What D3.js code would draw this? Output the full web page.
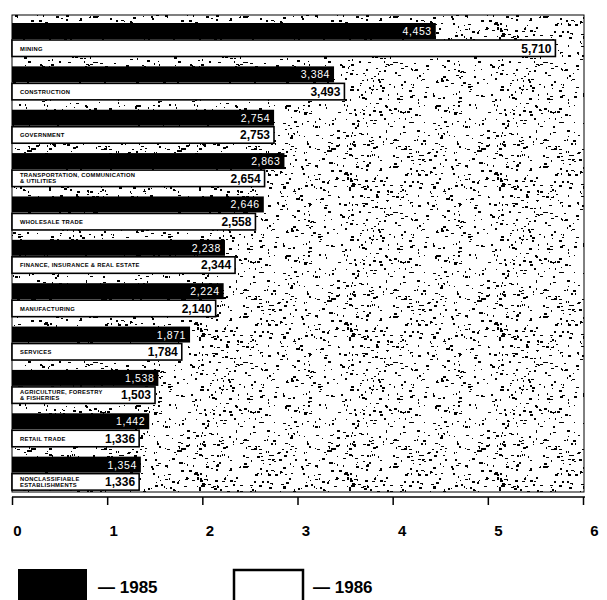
<!DOCTYPE html>
<html>
<head>
<meta charset="utf-8">
<script src="https://cdn.jsdelivr.net/npm/d3@7"></script>
<style>
  body { margin: 0; background: #fff; }
  svg { display: block; font-family: "Liberation Sans", Arial, sans-serif; }
</style>
</head>
<body>
<svg width="607" height="600"></svg>
<script>
const svg = d3.select('svg');

// categories (lines split for the two-line labels)
var categories = ["MINING", "CONSTRUCTION", "GOVERNMENT",
  "TRANSPORTATION, COMMUNICATION|& UTILITIES", "WHOLESALE TRADE",
  "FINANCE, INSURANCE & REAL ESTATE", "MANUFACTURING", "SERVICES",
  "AGRICULTURE, FORESTRY|& FISHERIES", "RETAIL TRADE",
  "NONCLASSIFIABLE|ESTABLISHMENTS"];
// values in thousands
var values1985 = [4.453, 3.384, 2.754, 2.863, 2.646, 2.238, 2.224, 1.871, 1.538, 1.442, 1.354];
var values1986 = [5.710, 3.493, 2.753, 2.654, 2.558, 2.344, 2.140, 1.784, 1.503, 1.336, 1.336];
var ticks = [0, 1, 2, 3, 4, 5, 6];
var legendYears = ["1985", "1986"];

//globals
var plotLeft = 12, plotRight = 584, plotTop = 15, plotBottom = 492;
var axisY = 497;

var x = d3.scaleLinear().domain([0, 6]).range([plotLeft, 583]);
var y = d3.scaleBand().domain(d3.range(categories.length)).range([plotTop, plotBottom]);
var fmt = d3.format(",.0f");

// stipple texture (seeded so it's the same every time)
var rnd = d3.randomLcg(0.42);
var tile = 150;
var pat = svg.append("defs").append("pattern")
    .attr("id", "stipple")
    .attr("patternUnits", "userSpaceOnUse")
    .attr("width", tile).attr("height", tile);
pat.append("rect").attr("width", tile).attr("height", tile).attr("fill", "#fff");
var dots = [];
for (var k = 0; k < 620; k++) {
  dots.push([Math.round(rnd() * tile), Math.round(rnd() * tile), 1 + Math.floor(rnd() * 3), 1 + Math.floor(rnd() * 2)]);
}
pat.selectAll("rect.dot")
    .data(dots)
    .enter()
    .append("rect")
    .attr("class", "dot")
    .attr("x", function(d) { return d[0]; })
    .attr("y", function(d) { return d[1]; })
    .attr("width", function(d) { return d[2]; })
    .attr("height", function(d) { return d[3]; })
    .attr("fill", "#000");

svg.append("rect")
    .attr("x", plotLeft).attr("y", plotTop)
    .attr("width", plotRight - plotLeft).attr("height", plotBottom - plotTop)
    .attr("fill", "url(#stipple)")
    .attr("stroke", "#000").attr("stroke-width", 1);

var rows = svg.append("g").selectAll("g")
    .data(categories)
    .enter()
    .append("g")
    .attr("transform", function(d, i) { return "translate(0," + y(i) + ")"; });

// 1985 black bars
rows.append("rect")
    .attr("x", x(0))
    .attr("y", 8)
    .attr("width", function(d, i) { return x(values1985[i]) - x(0); })
    .attr("height", 16)
    .attr("fill", "#000");

rows.append("text")
    .attr("x", function(d, i) { return x(values1985[i]) - 4; })
    .attr("y", 20)
    .attr("text-anchor", "end")
    .attr("fill", "#fff")
    .attr("font-size", 10.5)
    .attr("letter-spacing", 0.6)
    .text(function(d, i) { return fmt(values1985[i] * 1000); });

// 1986 white bars
rows.append("rect")
    .attr("x", x(0))
    .attr("y", 25)
    .attr("width", function(d, i) { return x(values1986[i]) - x(0); })
    .attr("height", 16.5)
    .attr("fill", "#fff")
    .attr("stroke", "#000")
    .attr("stroke-width", 1.6);

rows.append("text")
    .attr("x", function(d, i) { return x(values1986[i]) - 4; })
    .attr("y", 37.5)
    .attr("text-anchor", "end")
    .attr("font-weight", "bold")
    .attr("font-size", 12)
    .text(function(d, i) { return fmt(values1986[i] * 1000); });

// category labels
rows.each(function(d) {
  var lines = d.split("|");
  var t = d3.select(this).append("text")
      .attr("x", 20)
      .attr("font-size", 5.8)
      .attr("font-weight", "bold")
      .attr("letter-spacing", 0.3);
  lines.forEach(function(l, j) {
    t.append("tspan")
        .attr("x", 20)
        .attr("y", lines.length == 1 ? 35.5 : 32 + j * 6.2)
        .text(l);
  });
});

// axis
var axis = svg.append("g")
    .attr("transform", "translate(0," + axisY + ")")
    .call(d3.axisBottom(x).tickValues(ticks).tickSize(8).tickFormat(""));
axis.select(".domain").attr("stroke-width", 1.5).attr("d", "M" + x(0) + ",0H" + (plotRight + 1));
axis.selectAll(".tick line").attr("stroke-width", 1.5);

// tick labels sit a touch right of the ticks in the original
var xl = d3.scaleLinear().domain([0, 6]).range([17, 594]);
var labels = svg.append("g")
    .attr("transform", "translate(0,522)")
    .call(d3.axisBottom(xl).tickValues(ticks).tickSize(0).tickFormat(d3.format("d")));
labels.select(".domain").remove();
labels.selectAll("text")
    .attr("font-family", "Liberation Sans, Arial, sans-serif")
    .attr("font-size", 15)
    .attr("font-weight", "bold")
    .attr("fill", "#000");

// legend
var legend = svg.append("g").selectAll("g")
    .data(legendYears)
    .enter()
    .append("g")
    .attr("transform", function(d, i) { return "translate(" + (18 + i * 215) + ",569)"; });

legend.append("rect")
    .attr("x", function(d, i) { return i ? 1 : 0; })
    .attr("y", function(d, i) { return i ? 1 : 0; })
    .attr("width", 69)
    .attr("height", 34)
    .attr("fill", function(d, i) { return i ? "#fff" : "#000"; })
    .attr("stroke", "#000")
    .attr("stroke-width", function(d, i) { return i ? 2.5 : 0; });

legend.append("text")
    .attr("x", 80)
    .attr("y", 24)
    .attr("font-size", 17)
    .attr("font-weight", "bold")
    .text(function(d) { return "\u2014 " + d; });
</script>
</body>
</html>
